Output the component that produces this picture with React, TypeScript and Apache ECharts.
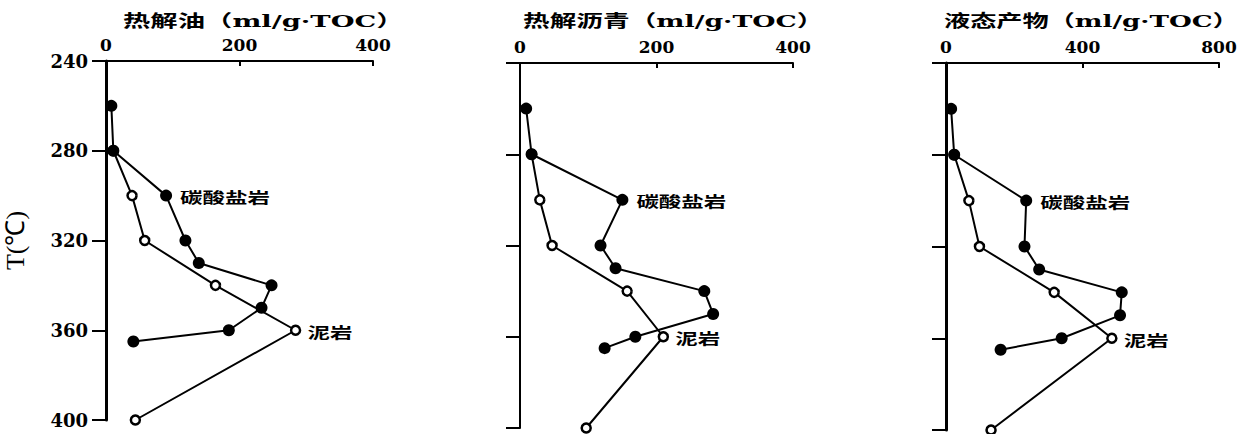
import React, { useEffect, useRef } from "react";
import * as echarts from "echarts";

// Temperatures (°C) of samples
const TEMP_CARB = [260, 280, 300, 320, 330, 340, 350, 360, 365];
const TEMP_MUD = [280, 300, 320, 340, 360, 400];

// 热解油 (ml/g·TOC)
const OIL_CARB = [8, 11, 90, 119, 139, 248, 233, 184, 41];
const OIL_MUD = [11, 39, 58, 164, 284, 44];

// 热解沥青 (ml/g·TOC)
const BIT_CARB = [9, 17, 150, 118, 140, 270, 283, 169, 124];
const BIT_MUD = [17, 29, 47, 157, 210, 97];

// 液态产物 (ml/g·TOC)
const LIQ_CARB = [15, 24, 235, 230, 273, 515, 510, 339, 160];
const LIQ_MUD = [24, 67, 98, 317, 486, 132];

const TITLES = ["热解油（ml/g·TOC）", "热解沥青（ml/g·TOC）", "液态产物（ml/g·TOC）"];
const X_MAX = [400, 400, 800];
const X_INTERVAL = [200, 200, 400];
const Y_MIN = 240;
const Y_MAX = 400;
const Y_INTERVAL = 40;
const Y_NAME = "T(℃)";
const LABEL_CARB = "碳酸盐岩";
const LABEL_MUD = "泥岩";
const LABEL_CARB_T = 300;
const LABEL_MUD_T = 360;

const SERIES_CARB = [OIL_CARB, BIT_CARB, LIQ_CARB];
const SERIES_MUD = [OIL_MUD, BIT_MUD, LIQ_MUD];

const SERIF = "'DejaVu Serif', 'Noto Sans CJK SC', serif";
const CJK = "'Noto Sans CJK SC', sans-serif";

const GRIDS = [
  { left: 106, top: 61, width: 267, height: 359 },
  { left: 520, top: 63, width: 273, height: 365 },
  { left: 946, top: 63, width: 273, height: 367 },
];
const AXIS_W = [3, 2, 3];
const TITLE_POS = [
  { x: 123, y: 21, s: 1.61 },
  { x: 523, y: 21, s: 1.57 },
  { x: 944, y: 21, s: 1.54 },
];

export default function App() {
  const ref = useRef<HTMLDivElement>(null);
  useEffect(() => {
    if (!ref.current) return;
    const chart = echarts.init(ref.current, null, { renderer: "svg" });
    const series: any[] = [];
    for (let i = 0; i < 3; i++) {
      series.push({
        type: "line",
        xAxisIndex: i,
        yAxisIndex: i,
        data: SERIES_MUD[i].map((v, k) => [v, TEMP_MUD[k]]),
        symbol: "circle",
        symbolSize: 9,
        itemStyle: { color: "#fff", borderColor: "#000", borderWidth: 2.5 },
        lineStyle: { color: "#000", width: 2 },
        z: 2,
        silent: true,
      });
      series.push({
        type: "line",
        xAxisIndex: i,
        yAxisIndex: i,
        data: SERIES_CARB[i].map((v, k) => [v, TEMP_CARB[k]]),
        symbol: "circle",
        symbolSize: 12,
        itemStyle: { color: "#000", borderColor: "#000", borderWidth: 0 },
        lineStyle: { color: "#000", width: 2 },
        z: 3,
        silent: true,
      });
    }
    const titleGraphics = TITLES.map((t, i) => ({
      type: "text",
      x: TITLE_POS[i].x,
      y: TITLE_POS[i].y,
      scaleX: TITLE_POS[i].s,
      style: {
        text: t,
        fontFamily: SERIF,
        fontWeight: "bold",
        fontSize: 17,
        fill: "#000",
        textAlign: "left",
        textVerticalAlign: "middle",
      },
    }));
    chart.setOption({
      animation: false,
      backgroundColor: "#fff",
      grid: GRIDS.map((g) => ({ ...g, containLabel: false })),
      xAxis: GRIDS.map((_, i) => ({
        type: "value",
        gridIndex: i,
        position: "top",
        min: 0,
        max: X_MAX[i],
        interval: X_INTERVAL[i],
        axisLine: { show: true, onZero: false, lineStyle: { color: "#000", width: 2 } },
        axisTick: { show: true, inside: true, length: 5, lineStyle: { color: "#000", width: 2 } },
        splitLine: { show: false },
        axisLabel: {
          color: "#000",
          fontFamily: SERIF,
          fontWeight: "bold",
          fontSize: 17,
          margin: 8,
        },
      })),
      yAxis: GRIDS.map((_, i) => ({
        type: "value",
        gridIndex: i,
        inverse: true,
        min: Y_MIN,
        max: Y_MAX,
        interval: Y_INTERVAL,
        name: i === 0 ? Y_NAME : "",
        nameLocation: "middle",
        nameRotate: 90,
        nameGap: 78,
        nameTextStyle: { color: "#000", fontFamily: "'Liberation Serif', serif", fontSize: 26 },
        axisLine: { show: true, onZero: false, lineStyle: { color: "#000", width: AXIS_W[i] } },
        axisTick: { show: true, length: 14, lineStyle: { color: "#000", width: 2 } },
        splitLine: { show: false },
        axisLabel: {
          show: i === 0,
          color: "#000",
          fontFamily: SERIF,
          fontWeight: "bold",
          fontSize: 18,
          margin: 18,
        },
      })),
      graphic: titleGraphics,
      series,
    });

    // Curve labels, placed next to their data points through the chart's own scales
    const labelGraphics: any[] = [];
    for (let i = 0; i < 3; i++) {
      const kc = TEMP_CARB.indexOf(LABEL_CARB_T);
      const km = TEMP_MUD.indexOf(LABEL_MUD_T);
      const pc = chart.convertToPixel({ gridIndex: i } as any, [SERIES_CARB[i][kc], TEMP_CARB[kc]]) as number[];
      const pm = chart.convertToPixel({ gridIndex: i } as any, [SERIES_MUD[i][km], TEMP_MUD[km]]) as number[];
      const mk = (text: string, p: number[], dx: number) => ({
        type: "text",
        x: p[0] + dx,
        y: p[1] + 1,
        scaleX: 1.5,
        z: 10,
        style: {
          text,
          fontFamily: CJK,
          fontWeight: "bold",
          fontSize: 15,
          fill: "#000",
          textAlign: "left",
          textVerticalAlign: "middle",
        },
      });
      labelGraphics.push(mk(LABEL_CARB, pc, 14));
      labelGraphics.push(mk(LABEL_MUD, pm, 12));
    }
    chart.setOption({ graphic: [...titleGraphics, ...labelGraphics] });
    return () => chart.dispose();
  }, []);
  return (
    <div
      ref={ref}
      style={{ position: "fixed", left: 0, top: 0, width: 1242, height: 434, background: "#fff" }}
    />
  );
}
